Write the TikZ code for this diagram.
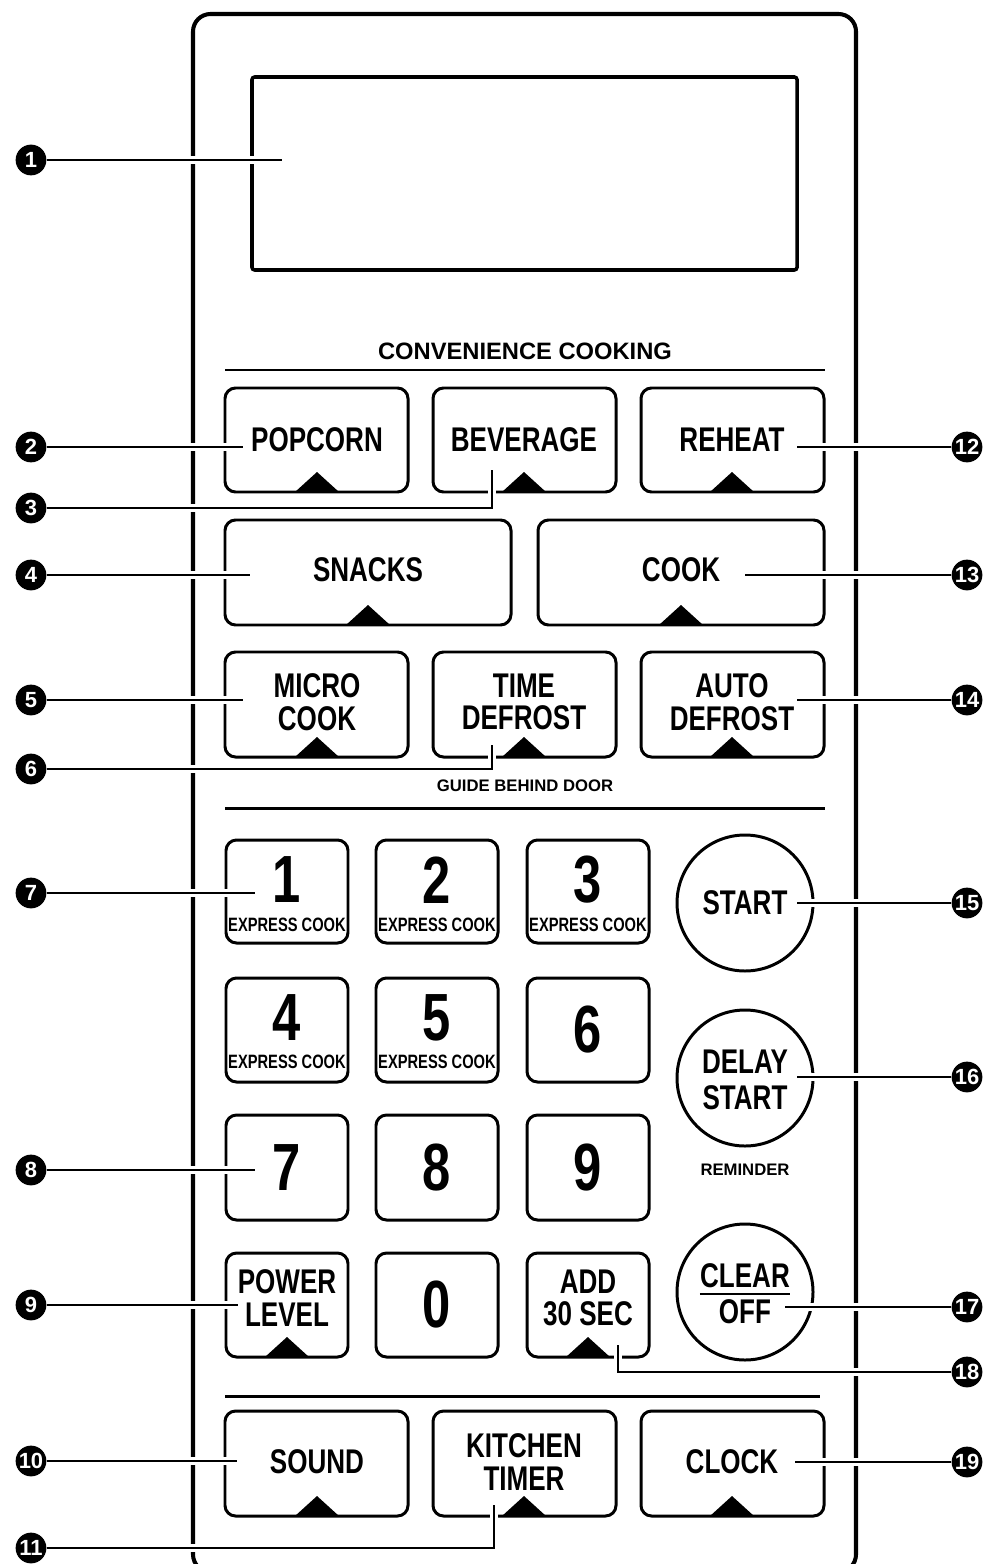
\documentclass[tikz,border=0pt]{standalone}
\usepackage{fontspec}
\setmainfont{Liberation Sans}
\newfontfamily\condfont[FakeStretch=0.76]{Liberation Sans}
\usetikzlibrary{positioning}

\begin{document}
\begin{tikzpicture}[x=0.02cm, y=-0.02cm,
    key/.style={draw, line width=1.7pt, rounded corners=6pt},
    sep/.style={line width=1.7pt},
    keytxt/.style={font=\condfont\bfseries\fontsize{19.5}{18.5}\selectfont, align=center, inner sep=0pt},
    digit/.style={font=\condfont\bfseries\fontsize{38}{38}\selectfont, inner sep=0pt},
    sub/.style={font=\condfont\bfseries\fontsize{11}{11}\selectfont, inner sep=0pt},
    caption/.style={font=\bfseries\fontsize{13.5}{14}\selectfont, inner sep=0pt},
    small/.style={font=\bfseries\fontsize{9.5}{10}\selectfont, inner sep=0pt},
    callout/.style={circle, fill=black, text=white, minimum size=17.5pt, inner sep=0pt,
      font=\bfseries\fontsize{12.5}{12.5}\selectfont},
    lead/.style={line width=1.4pt, preaction={draw=white, line width=5pt}},
    notch/.pic={\fill (-22,0) -- (0,-20) -- (22,0) -- cycle;}
  ]
  \useasboundingbox (0,0) rectangle (992,1564);
  \clip (0,0) rectangle (992,1564);

  % panel and display
  \draw[line width=2.3pt, rounded corners=10pt] (193,14) rectangle (856,1572);
  \draw[line width=2pt, rounded corners=1.5pt] (252,77) rectangle (797,270);

  % convenience cooking
  \node[caption] (conv) at (525,351) {CONVENIENCE COOKING};
  \draw[sep] (225,370) -- (825,370);

  \draw[key] (225,388) rectangle (408,492); \pic at (317,492) {notch};
  \draw[key] (433,388) rectangle (616,492); \pic at (524,492) {notch};
  \draw[key] (641,388) rectangle (824,492); \pic at (732,492) {notch};
  \node[keytxt] (popcorn) at (317,440) {POPCORN};
  \node[keytxt] (beverage) at (524,440) {BEVERAGE};
  \node[keytxt] (reheat) at (732,440) {REHEAT};

  \draw[key] (225,520) rectangle (511,625); \pic at (368,625) {notch};
  \draw[key] (538,520) rectangle (824,625); \pic at (681,625) {notch};
  \node[keytxt] (snacks) at (368,570) {SNACKS};
  \node[keytxt] (cook) at (681,570) {COOK};

  \draw[key] (225,652) rectangle (408,757); \pic at (317,757) {notch};
  \draw[key] (433,652) rectangle (616,757); \pic at (524,757) {notch};
  \draw[key] (641,652) rectangle (824,757); \pic at (732,757) {notch};
  \node[keytxt] (micro) at (317,702) {MICRO\\COOK};
  \node[keytxt] (tdefrost) at (524,702) {TIME\\DEFROST};
  \node[keytxt] (adefrost) at (732,702) {AUTO\\DEFROST};

  \node[small] (guide) at (525,786) {GUIDE BEHIND DOOR};
  \draw[sep] (225,808) -- (825,808);

  % number pad
  \draw[key] (226,840) rectangle (348,943);
  \draw[key] (376,840) rectangle (498,943);
  \draw[key] (527,840) rectangle (649,943);
  \node[digit] (k1) at (287,880) {1};
  \node[digit] (k2) at (437,880) {2};
  \node[digit] (k3) at (588,880) {3};
  \node[sub] (x1) at (287,925) {EXPRESS COOK};
  \node[sub] (x2) at (437,925) {EXPRESS COOK};
  \node[sub] (x3) at (588,925) {EXPRESS COOK};

  \draw[key] (226,978) rectangle (348,1082);
  \draw[key] (376,978) rectangle (498,1082);
  \draw[key] (527,978) rectangle (649,1082);
  \node[digit] (k4) at (287,1018) {4};
  \node[digit] (k5) at (437,1018) {5};
  \node[digit] (k6) at (588,1030) {6};
  \node[sub] (x4) at (287,1062) {EXPRESS COOK};
  \node[sub] (x5) at (437,1062) {EXPRESS COOK};

  \draw[key] (226,1115) rectangle (348,1220);
  \draw[key] (376,1115) rectangle (498,1220);
  \draw[key] (527,1115) rectangle (649,1220);
  \node[digit] (k7) at (287,1168) {7};
  \node[digit] (k8) at (437,1168) {8};
  \node[digit] (k9) at (588,1168) {9};

  \draw[key] (226,1253) rectangle (348,1357); \pic at (287,1357) {notch};
  \draw[key] (376,1253) rectangle (498,1357);
  \draw[key] (527,1253) rectangle (649,1357); \pic at (588,1357) {notch};
  \node[keytxt] (power) at (287,1298) {POWER\\LEVEL};
  \node[digit] (k0) at (437,1305) {0};
  \node[keytxt] (add) at (588,1298) {ADD\\30 SEC};

  % round keys
  \draw[line width=1.7pt] (745,903) circle (68);
  \node[keytxt] (start) at (745,903) {START};
  \draw[line width=1.7pt] (745,1078) circle (68);
  \node[keytxt] (delay) at (745,1080) {DELAY\\[2pt]START};
  \node[small] (remind) at (745,1170) {REMINDER};
  \draw[line width=1.7pt] (745,1292) circle (68);
  \node[keytxt] (clear) at (745,1276) {CLEAR};
  \node[keytxt] (off) at (745,1312) {OFF};
  \draw[line width=1.1pt] ([yshift=-3pt]clear.south west) -- ([yshift=-3pt]clear.south east);

  % bottom row
  \draw[sep] (225,1396) -- (820,1396);
  \draw[key] (225,1411) rectangle (408,1516); \pic at (317,1516) {notch};
  \draw[key] (433,1411) rectangle (616,1516); \pic at (524,1516) {notch};
  \draw[key] (641,1411) rectangle (824,1516); \pic at (732,1516) {notch};
  \node[keytxt] (sound) at (317,1462) {SOUND};
  \node[keytxt] (ktimer) at (524,1462) {KITCHEN\\TIMER};
  \node[keytxt] (clock) at (732,1462) {CLOCK};

  % callouts
  \node[callout] (c1) at (31,160) {1};
  \node[callout] (c2) at (31,447) {2};
  \node[callout] (c3) at (31,508) {3};
  \node[callout] (c4) at (31,575) {4};
  \node[callout] (c5) at (31,700) {5};
  \node[callout] (c6) at (31,769) {6};
  \node[callout] (c7) at (31,893) {7};
  \node[callout] (c8) at (31,1170) {8};
  \node[callout] (c9) at (31,1305) {9};
  \node[callout] (c10) at (31,1461) {10};
  \node[callout] (c11) at (31,1548) {11};
  \node[callout] (c12) at (967,447) {12};
  \node[callout] (c13) at (967,575) {13};
  \node[callout] (c14) at (967,700) {14};
  \node[callout] (c15) at (967,903) {15};
  \node[callout] (c16) at (967,1077) {16};
  \node[callout] (c17) at (967,1307) {17};
  \node[callout] (c18) at (967,1372) {18};
  \node[callout] (c19) at (967,1462) {19};

  \coordinate (e1) at (282,160);
  \coordinate (e2) at (243,447);
  \coordinate (e3) at (492,470);
  \coordinate (e4) at (250,575);
  \coordinate (e5) at (243,700);
  \coordinate (e6) at (492,745);
  \coordinate (e7) at (255,893);
  \coordinate (e8) at (255,1170);
  \coordinate (e9) at (238,1305);
  \coordinate (e10) at (237,1461);
  \coordinate (e11) at (494,1505);
  \coordinate (e12) at (797,447);
  \coordinate (e13) at (745,575);
  \coordinate (e14) at (797,700);
  \coordinate (e15) at (797,903);
  \coordinate (e16) at (797,1077);
  \coordinate (e17) at (785,1307);
  \coordinate (e18) at (618,1345);
  \coordinate (e19) at (795,1462);

  % leader lines
  \draw[lead] (c1) -- (e1);
  \draw[lead] (c2) -- (e2);
  \draw[lead] (c3) -| (e3);
  \draw[lead] (c4) -- (e4);
  \draw[lead] (c5) -- (e5);
  \draw[lead] (c6) -| (e6);
  \draw[lead] (c7) -- (e7);
  \draw[lead] (c8) -- (e8);
  \draw[lead] (c9) -- (e9);
  \draw[lead] (c10) -- (e10);
  \draw[lead] (c11) -| (e11);
  \draw[lead] (c12) -- (e12);
  \draw[lead] (c13) -- (e13);
  \draw[lead] (c14) -- (e14);
  \draw[lead] (c15) -- (e15);
  \draw[lead] (c16) -- (e16);
  \draw[lead] (c17) -- (e17);
  \draw[lead] (c18) -| (e18);
  \draw[lead] (c19) -- (e19);
\end{tikzpicture}
\end{document}
